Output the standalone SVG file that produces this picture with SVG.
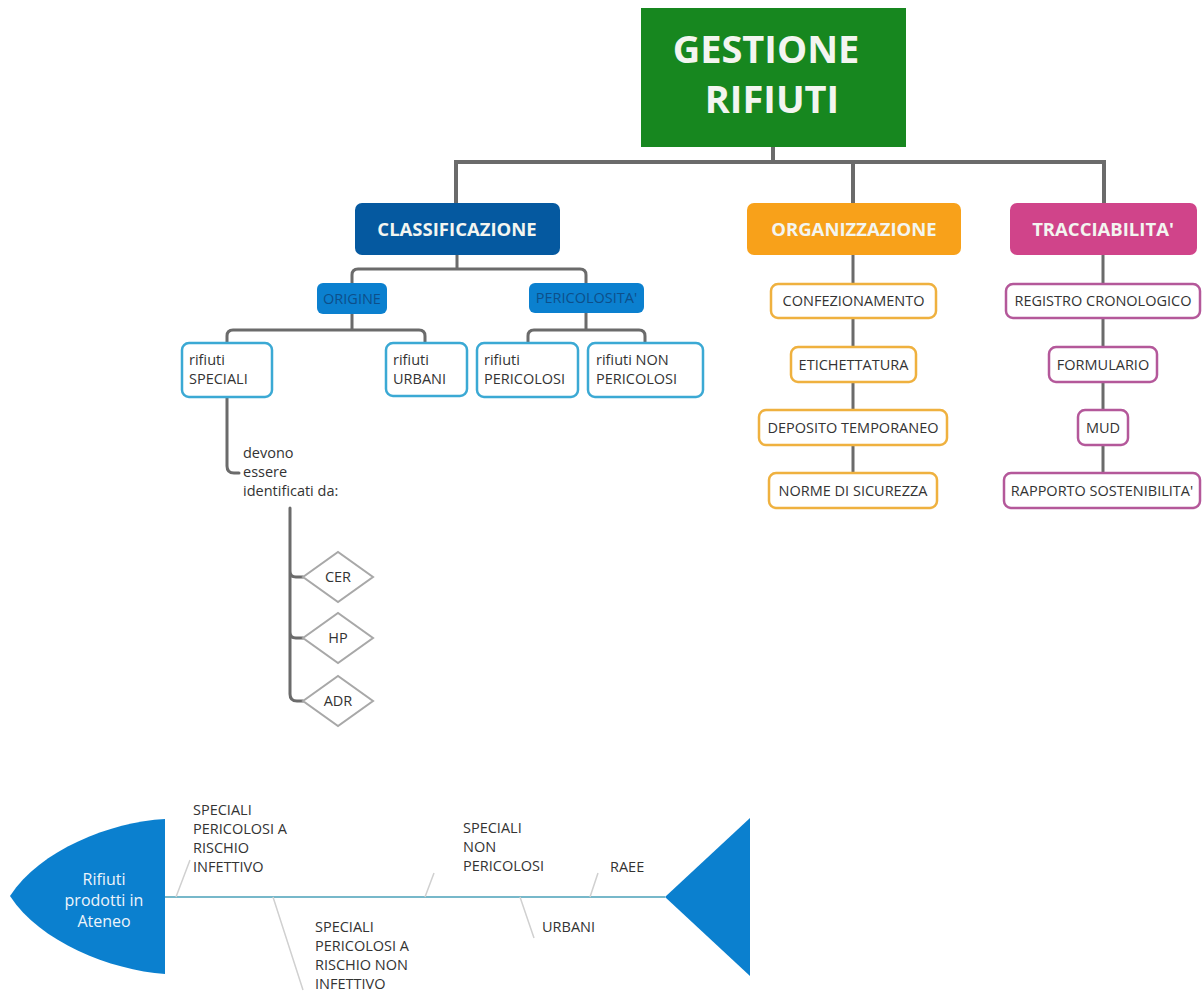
<svg xmlns="http://www.w3.org/2000/svg" width="1202" height="991" viewBox="0 0 1202 991">
<defs>
<style>
.t{font-family:"Open Sans","Noto Sans","Liberation Sans",sans-serif;font-size:14.5px;fill:#333}
.h{font-family:"Open Sans","Noto Sans","Liberation Sans",sans-serif;font-weight:bold;fill:#f3f5f0}
.c{text-anchor:middle}
.w{fill:#eef4fa;font-size:16px}
.o{fill:#0d4f8a}
.main{fill:none;stroke:#6b6b6b;stroke-width:4}
.sub{fill:none;stroke:#6b6b6b;stroke-width:3;stroke-linecap:round}
.bl{fill:#fff;stroke:#3ba9d4;stroke-width:2.5}
.or{fill:#fff;stroke:#efb13f;stroke-width:2.5}
.pk{fill:#fff;stroke:#b4589a;stroke-width:2.5}
.dm{fill:#fff;stroke:#a8a8a8;stroke-width:2}
.bone{fill:none;stroke:#d0d0d0;stroke-width:1.5}
</style>
</defs>
<rect width="1202" height="991" fill="#fff"/>
<g id="connectors">
<path class="main" d="M773,147 V162 M454,162 H1106 M456,162 V203 M853,162 V203 M1104,162 V203"/>
<path class="sub" d="M457,255 V269 M352,283 V275 Q352,269 358,269 H580 Q586,269 586,275 V283"/>
<path class="sub" d="M352,314 V330 M227,343 V336 Q227,330 233,330 H419 Q425,330 425,336 V343"/>
<path class="sub" d="M586,313 V330 M528,343 V336 Q528,330 534,330 H639 Q645,330 645,336 V343"/>
<path class="sub" d="M227,397 V466 Q227,473 234,473 H239"/>
<path class="sub" d="M290,508 V694 Q290,701 297,701 H303 M290,571 Q290,577 296,577 H303 M290,632 Q290,638 296,638 H303"/>
<path class="sub" d="M853,255 V284 M853,318 V347 M853,382 V410 M853,445 V473"/>
<path class="sub" d="M1103,255 V284 M1103,318 V347 M1103,382 V410 M1103,445 V473"/>
<path d="M165,897 H665" fill="none" stroke="#4aa0b8" stroke-width="1.5"/>
<path class="bone" d="M176,897 L190,860 M273,897 L303,990 M425,897 L434,873 M520,897 L534,938 M590,897 L598,873"/>
</g>
<g id="gestione">
<rect x="641" y="8" width="265" height="139" fill="#17871f"/>
<text class="h c" x="766" y="63" font-size="38">GESTIONE</text>
<text class="h c" x="772" y="113" font-size="38">RIFIUTI</text>
</g>
<g id="classificazione">
<rect x="355" y="203" width="205" height="52" rx="7" fill="#0559a0"/>
<text class="h c" x="457" y="236" font-size="18.5">CLASSIFICAZIONE</text>
</g>
<g id="organizzazione">
<rect x="747" y="203" width="214" height="52" rx="7" fill="#f8a11a"/>
<text class="h c" x="854" y="236" font-size="18.5">ORGANIZZAZIONE</text>
</g>
<g id="tracciabilita">
<rect x="1010" y="203" width="187" height="52" rx="7" fill="#d0448a"/>
<text class="h c" x="1103" y="236" font-size="18.5">TRACCIABILITA'</text>
</g>
<g id="origine">
<rect x="317" y="283" width="70" height="31" rx="6" fill="#0b80cf"/>
<text class="t c o" x="352" y="304">ORIGINE</text>
</g>
<g id="pericolosita">
<rect x="529" y="283" width="115" height="30" rx="6" fill="#0b80cf"/>
<text class="t c o" x="586.5" y="303">PERICOLOSITA'</text>
</g>
<g id="rifiuti-speciali">
<rect x="182" y="343" width="90" height="54" rx="7" class="bl"/>
<text class="t" x="189" y="365">rifiuti</text>
<text class="t" x="189" y="384">SPECIALI</text>
</g>
<g id="rifiuti-urbani">
<rect x="386" y="343" width="81" height="53" rx="7" class="bl"/>
<text class="t" x="393" y="365">rifiuti</text>
<text class="t" x="393" y="384">URBANI</text>
</g>
<g id="rifiuti-pericolosi">
<rect x="477" y="343" width="101" height="54" rx="7" class="bl"/>
<text class="t" x="484" y="365">rifiuti</text>
<text class="t" x="484" y="384">PERICOLOSI</text>
</g>
<g id="rifiuti-non-pericolosi">
<rect x="588" y="343" width="115" height="54" rx="7" class="bl"/>
<text class="t" x="596" y="365">rifiuti NON</text>
<text class="t" x="596" y="384">PERICOLOSI</text>
</g>
<g id="identificati">
<text class="t" x="243" y="458">devono</text>
<text class="t" x="243" y="477">essere</text>
<text class="t" x="243" y="496">identificati da:</text>
</g>
<g id="cer">
<polygon class="dm" points="303,577 338,552 373,577 338,602"/>
<text class="t c" x="338" y="582">CER</text>
</g>
<g id="hp">
<polygon class="dm" points="303,638 338,613 373,638 338,663"/>
<text class="t c" x="338" y="643">HP</text>
</g>
<g id="adr">
<polygon class="dm" points="303,701 338,676 373,701 338,726"/>
<text class="t c" x="338" y="706">ADR</text>
</g>
<g id="confezionamento">
<rect x="771" y="284" width="165" height="34" rx="7" class="or"/>
<text class="t c" x="853.5" y="306">CONFEZIONAMENTO</text>
</g>
<g id="etichettatura">
<rect x="791" y="347" width="125" height="35" rx="7" class="or"/>
<text class="t c" x="853.5" y="369.5">ETICHETTATURA</text>
</g>
<g id="deposito">
<rect x="759" y="410" width="188" height="35" rx="7" class="or"/>
<text class="t c" x="853" y="432.5">DEPOSITO TEMPORANEO</text>
</g>
<g id="norme">
<rect x="769" y="473" width="168" height="35" rx="7" class="or"/>
<text class="t c" x="853" y="495.5">NORME DI SICUREZZA</text>
</g>
<g id="registro">
<rect x="1006" y="284" width="194" height="34" rx="7" class="pk"/>
<text class="t c" x="1103" y="306">REGISTRO CRONOLOGICO</text>
</g>
<g id="formulario">
<rect x="1049" y="347" width="108" height="35" rx="7" class="pk"/>
<text class="t c" x="1103" y="369.5">FORMULARIO</text>
</g>
<g id="mud">
<rect x="1078" y="410" width="50" height="35" rx="7" class="pk"/>
<text class="t c" x="1103" y="432.5">MUD</text>
</g>
<g id="rapporto">
<rect x="1004" y="473" width="196" height="35" rx="7" class="pk"/>
<text class="t c" x="1102" y="495.5">RAPPORTO SOSTENIBILITA'</text>
</g>
<g id="fish-head">
<path d="M165,819 C110,822 40,850 10,896 C40,942 110,970 165,974 Z" fill="#0b80cf"/>
<text class="t c w" x="104" y="885">Rifiuti</text>
<text class="t c w" x="104" y="906">prodotti in</text>
<text class="t c w" x="104" y="927">Ateneo</text>
</g>
<g id="fish-tail">
<polygon points="665,897 750,818 750,976" fill="#0b80cf"/>
</g>
<g id="speciali-infettivo">
<text class="t" x="193" y="815">SPECIALI</text>
<text class="t" x="193" y="834">PERICOLOSI A</text>
<text class="t" x="193" y="853">RISCHIO</text>
<text class="t" x="193" y="872">INFETTIVO</text>
</g>
<g id="speciali-non-infettivo">
<text class="t" x="315" y="932">SPECIALI</text>
<text class="t" x="315" y="951">PERICOLOSI A</text>
<text class="t" x="315" y="970">RISCHIO NON</text>
<text class="t" x="315" y="989">INFETTIVO</text>
</g>
<g id="speciali-non-pericolosi">
<text class="t" x="463" y="833">SPECIALI</text>
<text class="t" x="463" y="852">NON</text>
<text class="t" x="463" y="871">PERICOLOSI</text>
</g>
<g id="urbani">
<text class="t" x="542" y="932">URBANI</text>
</g>
<g id="raee">
<text class="t" x="610" y="872">RAEE</text>
</g>
</svg>
